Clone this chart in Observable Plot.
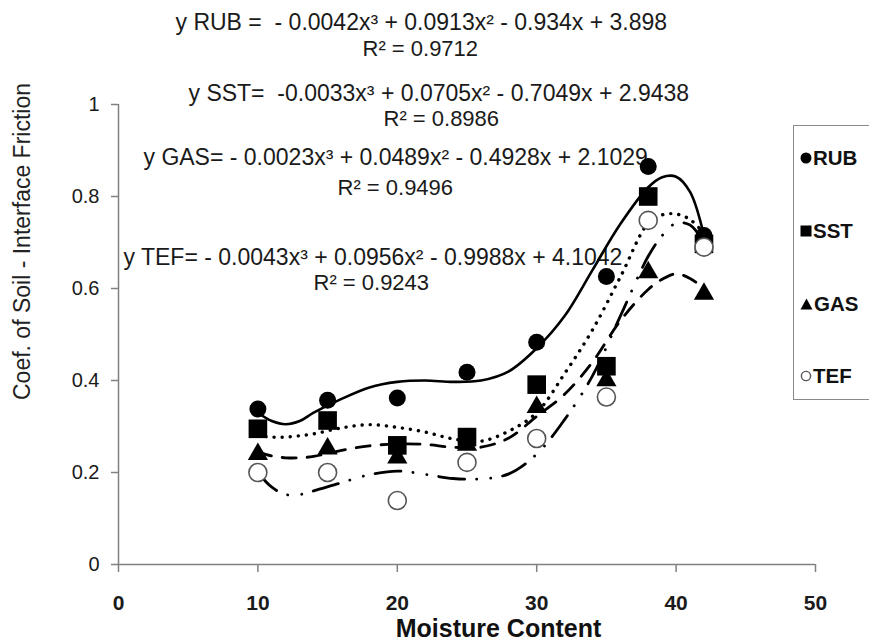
<!DOCTYPE html>
<html>
<head>
<meta charset="utf-8">
<script src="https://cdn.jsdelivr.net/npm/d3@7"></script>
<script src="https://cdn.jsdelivr.net/npm/@observablehq/plot@0.6"></script>
<style>
  html, body { margin: 0; padding: 0; background: #fff; }
  #wrap { position: relative; width: 869px; height: 641px; overflow: hidden; font-family: "Liberation Sans", Arial, sans-serif; }
  #wrap svg text { white-space: pre; }
  #legend { position: absolute; left: 793px; top: 125px; width: 130px; height: 275px; border: 1.5px solid #8a8a8a; box-sizing: border-box; background: #fff; }
  .lg { position: absolute; left: 6px; display: flex; align-items: center; font: bold 20.5px "Liberation Sans", Arial, sans-serif; color: #111; }
  .lg svg { display: block; margin-right: 1px; }
</style>
</head>
<body>
<div id="wrap"></div>
<script>
// ---- data ----
const moisture = [10, 15, 20, 25, 30, 35, 38, 42];
const rub = [0.338, 0.357, 0.362, 0.418, 0.483, 0.626, 0.865, 0.715];
const sst = [0.295, 0.313, 0.259, 0.277, 0.391, 0.431, 0.800, 0.697];
const gas = [0.240, 0.252, 0.232, 0.260, 0.342, 0.400, 0.635, 0.588];
const tef = [0.200, 0.200, 0.139, 0.222, 0.274, 0.364, 0.748, 0.690];

// trend curves as they appear in the picture
const fitX   = [10, 11, 12, 13, 14, 16, 18, 20, 22, 24, 26, 28, 30, 32, 34, 36, 38, 39, 40, 41, 42];
const rubFit = [0.33, 0.312, 0.305, 0.312, 0.33, 0.36, 0.385, 0.397, 0.40, 0.397, 0.40, 0.42, 0.47, 0.54, 0.64, 0.74, 0.82, 0.842, 0.843, 0.81, 0.715];
const sstFit = [0.28, 0.277, 0.277, 0.28, 0.284, 0.297, 0.304, 0.298, 0.288, 0.273, 0.268, 0.29, 0.33, 0.415, 0.51, 0.625, 0.742, 0.76, 0.762, 0.75, 0.72];
const gasFit = [0.245, 0.236, 0.232, 0.232, 0.235, 0.248, 0.258, 0.262, 0.261, 0.255, 0.255, 0.275, 0.322, 0.37, 0.44, 0.53, 0.598, 0.62, 0.632, 0.622, 0.60];
const tefFit = [0.20, 0.168, 0.152, 0.152, 0.16, 0.178, 0.195, 0.203, 0.196, 0.187, 0.186, 0.197, 0.24, 0.315, 0.41, 0.54, 0.67, 0.715, 0.742, 0.738, 0.70];

const seriesNames = ["RUB", "SST", "GAS", "TEF"];
const xTicks = [0, 10, 20, 30, 40, 50];
const yTicks = [0, 0.2, 0.4, 0.6, 0.8, 1];
const xTitle = "Moisture Content";
const yTitle = "Coef. of Soil - Interface Friction";
const equations = [
  "y RUB =  - 0.0042x\u00B3 + 0.0913x\u00B2 - 0.934x + 3.898",
  "y SST=  -0.0033x\u00B3 + 0.0705x\u00B2 - 0.7049x + 2.9438",
  "y GAS= - 0.0023x\u00B3 + 0.0489x\u00B2 - 0.4928x + 2.1029",
  "y TEF= - 0.0043x\u00B3 + 0.0956x\u00B2 - 0.9988x + 4.1042"
];
const r2Labels = ["R\u00B2 = 0.9712", "R\u00B2 = 0.8986", "R\u00B2 = 0.9496", "R\u00B2 = 0.9243"];

// ---- layout ----
const W = 869, H = 641;
const mL = 118, mR = 54, mT = 104, mB = 77;
const eqPos = [[175, 22], [188, 93], [143, 157], [123, 257]];   // left, vertical centre (px)
const r2Pos = [[362, 48], [383, 118], [337, 187], [313, 282]];

const pts = (vals) => moisture.map((m, i) => ({x: m, y: vals[i]}));
const fit = (vals) => fitX.map((m, i) => ({x: m, y: vals[i]}));

const lineStyles = [
  {stroke: "#000", strokeWidth: 2.6},
  {stroke: "#000", strokeWidth: 3.4, strokeDasharray: "0.1 8", strokeLinecap: "round"},
  {stroke: "#000", strokeWidth: 2.8, strokeDasharray: "14 11"},
  {stroke: "#000", strokeWidth: 2.8, strokeDasharray: "26 12 0.1 14 0.1 12", strokeLinecap: "round"}
];

const annMarks = [];
equations.forEach((t, i) => {
  annMarks.push(Plot.text([t], {frameAnchor: "top-left", dx: eqPos[i][0] - mL, dy: eqPos[i][1] - mT,
    textAnchor: "start", lineAnchor: "middle", fontSize: 23, fill: "#1a1a1a"}));
  annMarks.push(Plot.text([r2Labels[i]], {frameAnchor: "top-left", dx: r2Pos[i][0] - mL, dy: r2Pos[i][1] - mT,
    textAnchor: "start", lineAnchor: "middle", fontSize: 22, fill: "#1a1a1a"}));
});

const chart = Plot.plot({
  width: W, height: H,
  marginLeft: mL, marginRight: mR, marginTop: mT, marginBottom: mB,
  style: {fontFamily: "'Liberation Sans', Arial, sans-serif", color: "#1a1a1a", background: "#fff"},
  x: {domain: [0, 50]},
  y: {domain: [0, 1]},
  marks: [
    Plot.axisX({ticks: xTicks, tickSize: 8, tickPadding: 23, fontSize: 21, fontWeight: "bold",
      fontFamily: "'Liberation Sans Narrow', 'Arial Narrow', 'Liberation Sans', sans-serif",
      stroke: "#808080", strokeWidth: 1.5, label: null}),
    Plot.axisY({ticks: yTicks, tickSize: 7, tickPadding: 12, fontSize: 20,
      tickFormat: d => String(+d.toFixed(1)), stroke: "#808080", strokeWidth: 1.5, label: null}),
    Plot.ruleX([0], {stroke: "#808080", strokeWidth: 1.5}),
    Plot.ruleY([0], {stroke: "#808080", strokeWidth: 1.5}),
    Plot.text([xTitle], {frameAnchor: "bottom", dx: 498 - (mL + (W - mL - mR) / 2), dy: 64,
      textAnchor: "middle", lineAnchor: "middle", fontSize: 25, fontWeight: "bold", fill: "#111"}),
    Plot.text([yTitle], {frameAnchor: "left", dx: 22 - mL, dy: 241 - (mT + (H - mT - mB) / 2),
      rotate: -90, textAnchor: "middle", lineAnchor: "middle", fontSize: 23, fill: "#222"}),
    ...annMarks,
    Plot.line(fit(rubFit), {x: "x", y: "y", curve: "catmull-rom", ...lineStyles[0]}),
    Plot.line(fit(sstFit), {x: "x", y: "y", curve: "catmull-rom", ...lineStyles[1]}),
    Plot.line(fit(gasFit), {x: "x", y: "y", curve: "catmull-rom", ...lineStyles[2]}),
    Plot.line(fit(tefFit), {x: "x", y: "y", curve: "catmull-rom", ...lineStyles[3]}),
    Plot.dot(pts(rub), {x: "x", y: "y", symbol: "circle", r: 8.5, fill: "#000"}),
    Plot.dot(pts(sst), {x: "x", y: "y", symbol: "square", r: 10.5, fill: "#000"}),
    Plot.dot(pts(gas), {x: "x", y: "y", symbol: "triangle", r: 7.5, fill: "#000"}),
    Plot.dot(pts(tef), {x: "x", y: "y", symbol: "circle", r: 9, fill: "#fff", stroke: "#555", strokeWidth: 1.6})
  ]
});

const wrap = document.getElementById("wrap");
wrap.appendChild(chart);

// legend
const legend = document.createElement("div");
legend.id = "legend";
const legendTops = [32, 105, 178, 250];
const legendSym = [
  '<svg width="12" height="14"><circle cx="6" cy="7" r="5.5" fill="#000"/></svg>',
  '<svg width="12" height="14"><rect x="0.5" y="1.5" width="11" height="11" fill="#000"/></svg>',
  '<svg width="13" height="14"><path d="M6.5 1.5 L12.5 12.5 L0.5 12.5 Z" fill="#000"/></svg>',
  '<svg width="12" height="14"><circle cx="6" cy="7" r="4.6" fill="#fff" stroke="#555" stroke-width="1.4"/></svg>'
];
seriesNames.forEach((n, i) => {
  const d = document.createElement("div");
  d.className = "lg";
  d.style.top = (legendTops[i] - 12) + "px";
  d.innerHTML = legendSym[i] + "<span>" + n + "</span>";
  legend.appendChild(d);
});
wrap.appendChild(legend);
</script>
</body>
</html>
